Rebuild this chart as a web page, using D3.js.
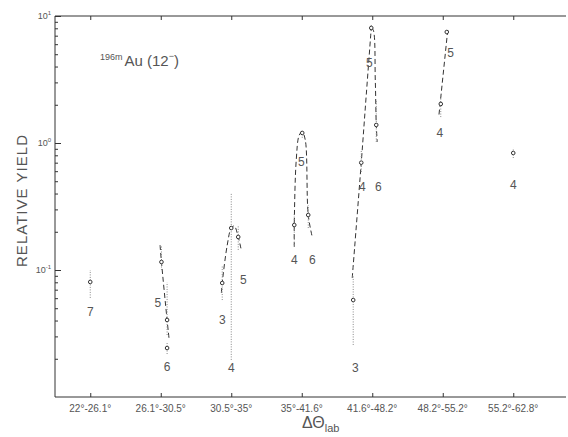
<!DOCTYPE html>
<html>
<head>
<meta charset="utf-8">
<script src="https://cdn.jsdelivr.net/npm/d3@7"></script>
<style>
  body { margin: 0; background: #fff; }
  svg { display: block; font-family: "Liberation Sans", "DejaVu Sans", sans-serif; }
  .axis path, .axis line { stroke: #333; }
  .curve { fill: none; stroke: #333; stroke-width: 1; stroke-dasharray: 5,3; }
  .err { stroke: #888; stroke-width: 1; stroke-dasharray: 1,1.5; }
  .pt { fill: #fff; stroke: #333; stroke-width: 1; }
  .lbl { font-size: 12px; fill: #555; text-anchor: middle; }
</style>
</head>
<body>
<svg id="chart" width="568" height="437"></svg>
<script>
// --- Data (x = category index + small offset, y = relative yield) ---
const categories = ["22°-26.1°", "26.1°-30.5°", "30.5°-35°", "35°-41.6°", "41.6°-48.2°", "48.2°-55.2°", "55.2°-62.8°"];
const yTicks = [10, 1, 0.1];

// points: category, offset, value, error low, error high
const ptCat   = [0, 1, 1, 1, 2, 2, 2, 3, 3, 3, 4, 4, 4, 4, 5, 5, 6];
const ptDx    = [0, 0.01, 0.09, 0.09, -0.128, 0, 0.099, -0.106, 0.092, 0.007, -0.27, -0.156, -0.014, 0.057, 0.057, -0.028, 0];
const ptVal   = [0.0805, 0.1156, 0.0404, 0.0243, 0.079, 0.214, 0.182, 0.226, 0.271, 1.20, 0.058, 0.70, 8.05, 1.387, 7.48, 2.03, 0.834];
const ptLo    = [0.0603, 0.1, 0.0308, 0.0218, 0.058, 0.0196, 0.144, 0.157, 0.214, 1.10, 0.0257, 0.591, 7.6, 1.02, 7.2, 1.6, 0.762];
const ptHi    = [0.1, 0.157, 0.08, 0.027, 0.109, 0.404, 0.226, 0.281, 0.325, 1.25, 0.0914, 0.881, 8.5, 2.18, 7.8, 2.39, 0.914];

// labels: category, offset, value, text
const lbCat  = [0, 1, 1, 2, 2, 2, 3, 3, 3, 4, 4, 4, 4, 5, 5, 6];
const lbDx   = [0, -0.04, 0.09, -0.128, 0, 0.17, -0.106, 0.15, -0.007, -0.24, -0.14, -0.04, 0.085, 0.11, -0.04, 0];
const lbVal  = [0.0467, 0.055, 0.0172, 0.0404, 0.0169, 0.0834, 0.12, 0.12, 0.709, 0.0169, 0.45, 4.26, 0.45, 5.11, 1.2, 0.467];
const lbText = ["7", "5", "6", "3", "4", "5", "4", "6", "5", "3", "4", "5", "6", "5", "4", "4"];

// dashed curves through the points (category + offset, value)
const curveCat1X = [0.99, 1.01, 1.09, 1.12];
const curveCat1Y = [0.157, 0.1156, 0.0404, 0.0281];
const curveCat2X = [1.86, 1.872, 1.943, 2.0, 2.043, 2.099, 2.142];
const curveCat2Y = [0.066, 0.079, 0.157, 0.214, 0.222, 0.182, 0.144];
const curveCat3X = [2.894, 2.894, 2.922, 2.965, 3.007, 3.05, 3.092, 3.149];
const curveCat3Y = [0.152, 0.226, 0.735, 1.156, 1.221, 1.056, 0.271, 0.182];
const curveCat4aX = [3.716, 3.844, 3.915, 3.986];
const curveCat4aY = [0.0865, 0.70, 2.39, 8.05];
const curveCat4bX = [3.986, 4.014, 4.043, 4.057, 4.071];
const curveCat4bY = [8.05, 7.76, 3.13, 1.387, 1.02];
const curveCat5X = [5.071, 4.943];
const curveCat5Y = [7.76, 1.6];

const curves = [
  [curveCat1X, curveCat1Y], [curveCat2X, curveCat2Y], [curveCat3X, curveCat3Y],
  [curveCat4aX, curveCat4aY], [curveCat4bX, curveCat4bY], [curveCat5X, curveCat5Y]
];

// --- Layout ---
const svg = d3.select("#chart");
const mLeft = 55, mTop = 16, mBottom = 397, mRight = 566;

const x = d3.scaleLinear().domain([-0.5, 6.5]).range([mLeft, 548.5]);
const y = d3.scaleLog().domain([0.01, 10]).range([mBottom, mTop]);

// axes frame
const catTicks = d3.range(categories.length);
svg.append("g").attr("class", "axis").attr("transform", `translate(0,${mBottom})`)
  .call(d3.axisTop(x).tickValues(catTicks).tickSize(4).tickFormat(""))
  .call(g => g.select(".domain").attr("d", `M${mLeft},0H${mRight}`));
svg.append("g").attr("class", "axis").attr("transform", `translate(0,${mTop})`)
  .call(d3.axisBottom(x).tickValues(catTicks).tickSize(4).tickFormat(""))
  .call(g => g.select(".domain").attr("d", `M${mLeft},0H${mRight}`));

const minor = [];
[0.01, 0.1, 1].forEach(b => d3.range(2, 10).forEach(k => minor.push(b * k)));
svg.append("g").attr("class", "axis").attr("transform", `translate(${mLeft},0)`)
  .call(d3.axisRight(y).tickValues(minor).tickSize(3).tickFormat(""))
  .call(g => g.select(".domain").remove());
svg.append("g").attr("class", "axis").attr("transform", `translate(${mLeft},0)`)
  .call(d3.axisRight(y).tickValues(yTicks).tickSize(6).tickFormat(""))
  .call(g => g.select(".domain").attr("d", `M0,${mTop}V${mBottom}`));

// y tick labels 10^n
yTicks.forEach(v => {
  const t = svg.append("text").attr("x", mLeft - 4).attr("y", y(v) + 3)
    .attr("text-anchor", "end").attr("font-size", 9).attr("fill", "#555");
  t.append("tspan").text("10");
  t.append("tspan").attr("dy", -4).attr("font-size", 6).text(Math.round(Math.log10(v)));
});

// x tick labels
svg.append("g").selectAll("text").data(categories).join("text")
  .attr("x", (d, i) => x(i)).attr("y", 412)
  .attr("text-anchor", "middle").attr("font-size", 10).attr("fill", "#555")
  .text(d => d);

// axis titles
svg.append("text").attr("transform", "translate(27,201) rotate(-90)")
  .attr("text-anchor", "middle").attr("font-size", 15).attr("fill", "#555")
  .attr("textLength", 132).text("RELATIVE YIELD");
const xt = svg.append("text").attr("x", 302).attr("y", 428).attr("font-size", 16).attr("fill", "#555");
xt.append("tspan").text("ΔΘ");
xt.append("tspan").attr("dy", 4).attr("font-size", 11).text("lab");

// title
const tt = svg.append("text").attr("x", 100).attr("y", 66).attr("fill", "#555");
tt.append("tspan").attr("font-size", 9).attr("dy", -6).text("196m");
tt.append("tspan").attr("font-size", 15).attr("dy", 6).attr("dx", 2).text("Au (12");
tt.append("tspan").attr("font-size", 9).attr("dy", -7).text("−");
tt.append("tspan").attr("font-size", 15).attr("dy", 7).text(")");

// dashed curves
const line = d3.line().x(d => x(d[0])).y(d => y(d[1])).curve(d3.curveCatmullRom);
svg.append("g").selectAll("path").data(curves).join("path")
  .attr("class", "curve")
  .attr("d", c => line(c[0].map((v, i) => [v, c[1][i]])));

// error bars
const pts = ptCat.map((c, i) => ({ x: c + ptDx[i], v: ptVal[i], lo: ptLo[i], hi: ptHi[i] }));
svg.append("g").selectAll("line").data(pts).join("line")
  .attr("class", "err")
  .attr("x1", d => x(d.x)).attr("x2", d => x(d.x))
  .attr("y1", d => y(d.lo)).attr("y2", d => y(d.hi));

// points
svg.append("g").selectAll("circle").data(pts).join("circle")
  .attr("class", "pt").attr("r", 1.8)
  .attr("cx", d => x(d.x)).attr("cy", d => y(d.v));

// labels
svg.append("g").selectAll("text").data(lbText).join("text")
  .attr("class", "lbl")
  .attr("x", (d, i) => x(lbCat[i] + lbDx[i])).attr("y", (d, i) => y(lbVal[i]) + 4)
  .text(d => d);
</script>
</body>
</html>
